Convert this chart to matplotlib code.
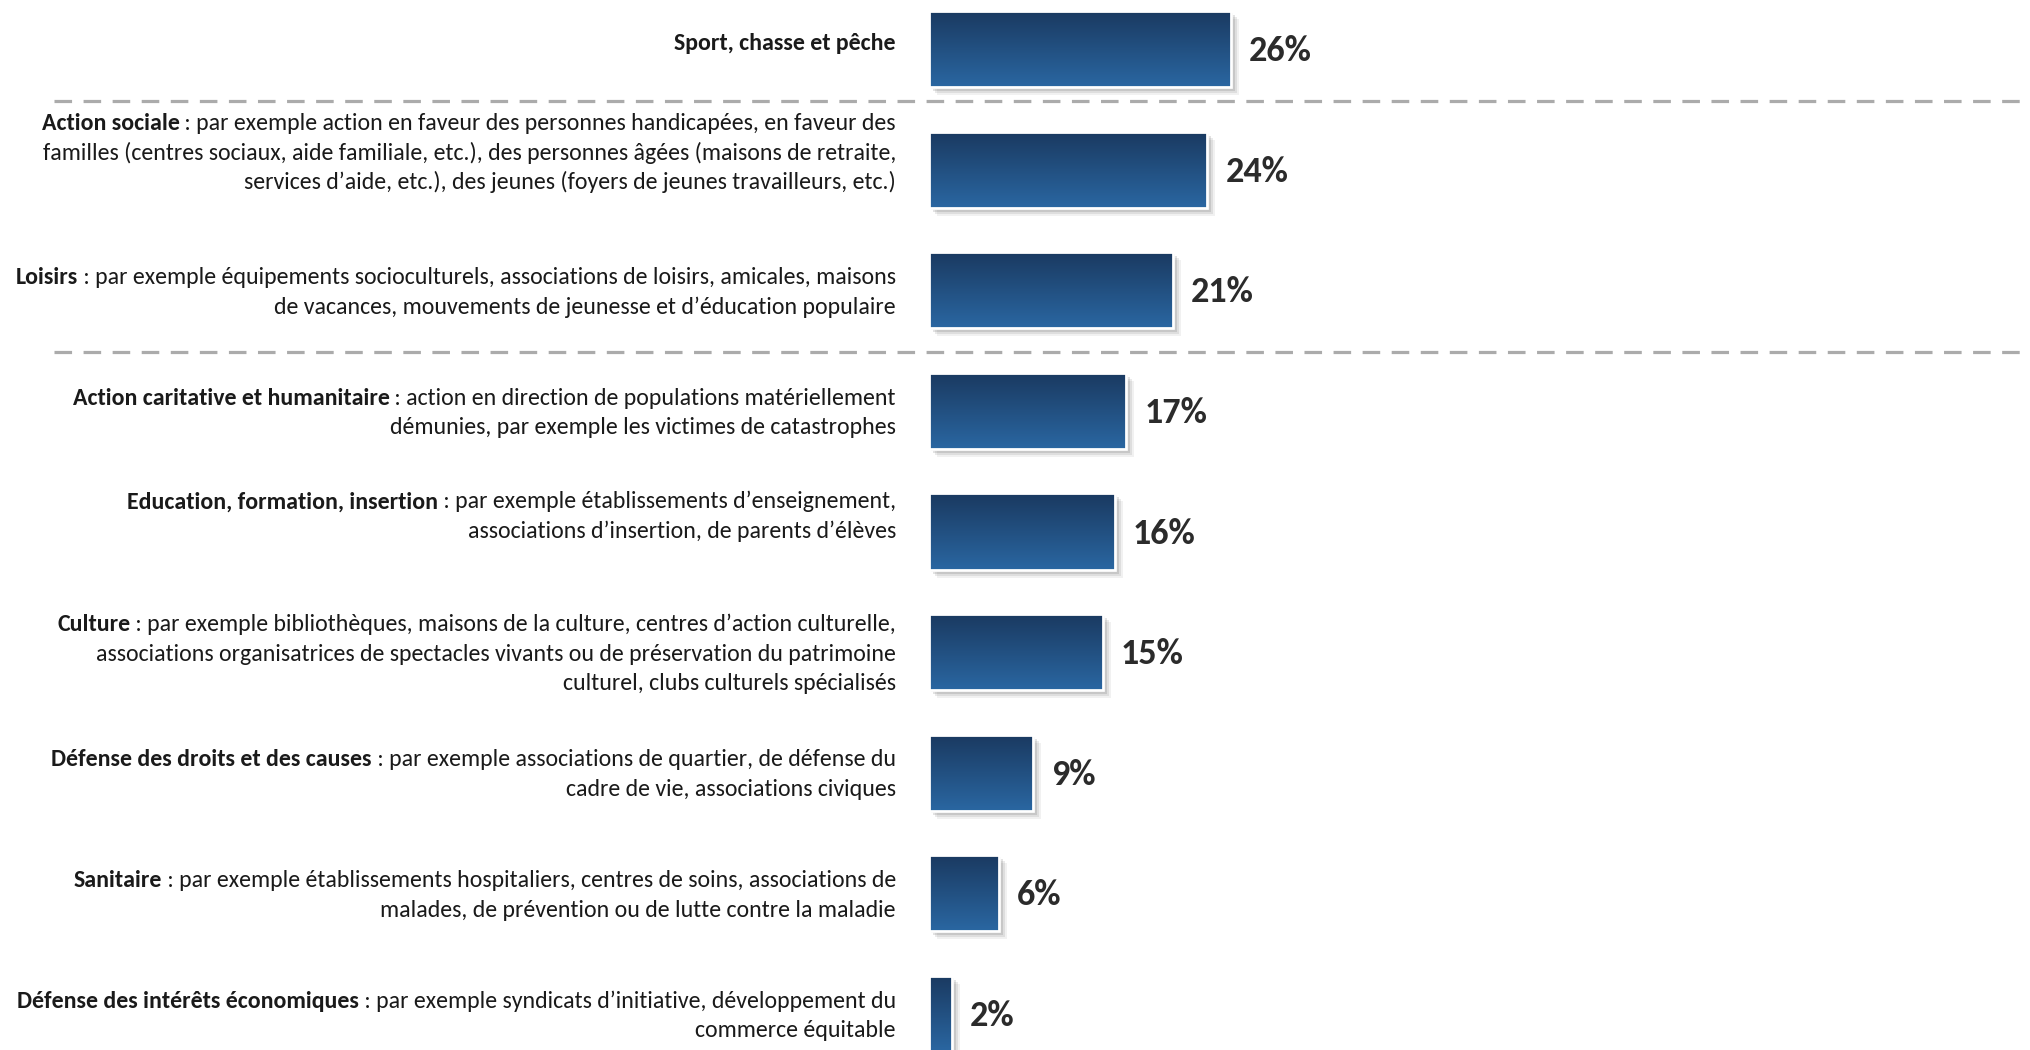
import numpy as np
import matplotlib
matplotlib.use("Agg")
import matplotlib.pyplot as plt
from matplotlib import transforms
from matplotlib.patches import Rectangle
from matplotlib.lines import Line2D
from matplotlib.colors import LinearSegmentedColormap

# data
categories = [
    "Sport, chasse et pêche",
    "Action sociale",
    "Loisirs",
    "Action caritative et humanitaire",
    "Education, formation, insertion",
    "Culture",
    "Défense des droits et des causes",
    "Sanitaire",
    "Défense des intérêts économiques",
]
descriptions = [
    [""],
    [" : par exemple action en faveur des personnes handicapées, en faveur des",
     "familles (centres sociaux, aide familiale, etc.), des personnes âgées (maisons de retraite,",
     "services d’aide, etc.), des jeunes (foyers de jeunes travailleurs, etc.)"],
    [" : par exemple équipements socioculturels, associations de loisirs, amicales, maisons",
     "de vacances, mouvements de jeunesse et d’éducation populaire"],
    [" : action en direction de populations matériellement",
     "démunies, par exemple les victimes de catastrophes"],
    [" : par exemple établissements d’enseignement,",
     "associations d’insertion, de parents d’élèves"],
    [" : par exemple bibliothèques, maisons de la culture, centres d’action culturelle,",
     "associations organisatrices de spectacles vivants ou de préservation du patrimoine",
     "culturel, clubs culturels spécialisés"],
    [" : par exemple associations de quartier, de défense du",
     "cadre de vie, associations civiques"],
    [" : par exemple établissements hospitaliers, centres de soins, associations de",
     "malades, de prévention ou de lutte contre la maladie"],
    [" : par exemple syndicats d’initiative, développement du",
     "commerce équitable"],
]
values = [26, 24, 21, 17, 16, 15, 9, 6, 2]
separators = [0.43, 2.51]

FONT = ["Carlito", "DejaVu Sans"]
PX_X = 11.6     # pixels per percent
PX_Y = 120.6    # pixels per category slot
LINE_PX = 29.5
# some label blocks sit a bit above their bar in the original (pixels)
label_nudge = [8, 19, 0, 0, 17, 0, 0, 0, 0]

fig = plt.figure(figsize=(20.31, 10.5), dpi=100)
ax = fig.add_axes([929 / 2031, 0, 1 - 929 / 2031, 1])
ax.axis("off")

y = np.arange(len(values))
bar_h = 76 / PX_Y

# shadows
for i, v in enumerate(values):
    for k, a in [(8, 0.08), (6, 0.12), (4, 0.16), (2, 0.2)]:
        ax.add_patch(Rectangle((k / PX_X, i - bar_h / 2 + k / PX_Y), v, bar_h,
                               facecolor="#555555", edgecolor="none", alpha=a, zorder=2))

bars = ax.barh(y, values, height=bar_h, facecolor="none",
               edgecolor="white", linewidth=2, zorder=4)

cmap = LinearSegmentedColormap.from_list("bar", ["#1a3960", "#2a67a2"])
grad = np.linspace(0, 1, 256).reshape(-1, 1)
for b in bars:
    x0, y0 = b.get_xy()
    w, h = b.get_width(), b.get_height()
    im = ax.imshow(grad, extent=[x0, x0 + w, y0 + h, y0], aspect="auto",
                   cmap=cmap, zorder=3, interpolation="bilinear")
    im.set_clip_path(b)

ax.set_xlim(0, (2031 - 929) / PX_X)
ax.set_ylim(8 + (1050 - 1014) / PX_Y, -49 / PX_Y)

# value labels
for i, v in enumerate(values):
    ax.annotate(f"{v}%", xy=(v, i), xytext=(18, -2), textcoords="offset pixels",
                ha="left", va="center", fontsize=26, fontweight="bold",
                family=FONT, color="#2b2b2b")

# separators
blend = transforms.blended_transform_factory(fig.transFigure, ax.transData)
for s in separators:
    fig.add_artist(Line2D([54 / 2031, 1], [s, s], transform=blend, color="#ababab",
                          linewidth=2.3, linestyle=(0, (5.5, 3.6))))

# category labels
renderer = fig.canvas.get_renderer()
label_x = 896 / 2031
for i, (name, lines) in enumerate(zip(categories, descriptions)):
    n = len(lines)
    for j, line in enumerate(lines):
        dy = (j - (n - 1) / 2) * LINE_PX - label_nudge[i]
        t = ax.annotate(line, xy=(label_x, i), xycoords=blend, xytext=(0, -dy),
                        textcoords="offset pixels", ha="right", va="center_baseline",
                        fontsize=17.2, family=FONT, color="#1a1a1a")
        if j == 0:
            w = t.get_window_extent(renderer).width if line else 0
            ax.annotate(name, xy=(label_x, i), xycoords=blend, xytext=(-w, -dy),
                        textcoords="offset pixels", ha="right", va="center_baseline",
                        fontsize=17.2, fontweight="bold", family=FONT,
                        color="#1a1a1a")

fig.savefig("out.png", dpi=100)
